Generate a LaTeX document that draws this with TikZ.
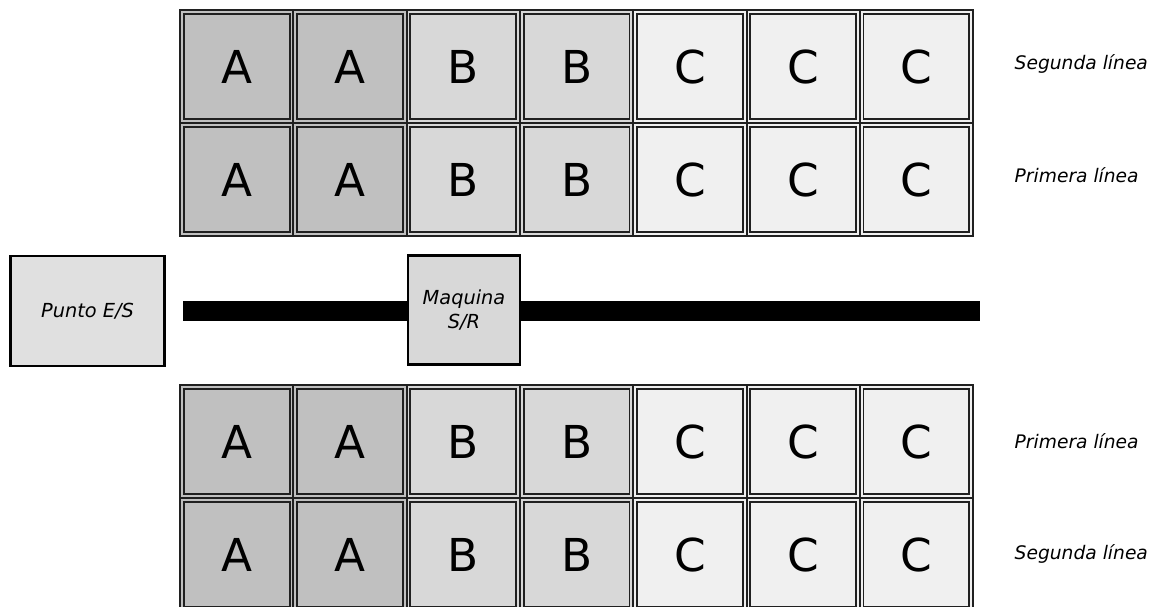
\documentclass[tikz,border=0pt]{standalone}
\usepackage{fontspec}
\setmainfont{DejaVu Sans}
\definecolor{cA}{HTML}{C0C0C0}
\definecolor{cB}{HTML}{D8D8D8}
\definecolor{cC}{HTML}{F0F0F0}
\definecolor{cP}{HTML}{E0E0E0}
\definecolor{edge}{HTML}{202020}
\begin{document}
\begin{tikzpicture}[x=0.75pt,y=-0.75pt,
  cell/.style={draw=edge, line width=1.5pt, minimum width=85pt, minimum height=84.8pt,
    inner sep=0pt, outer sep=0pt, anchor=north west, font=\fontsize{34}{40}\selectfont,
    path picture={\draw[edge, line width=1.4pt]
      ([shift={(2.8pt,-2.8pt)}]path picture bounding box.north west) rectangle
      ([shift={(-2.8pt,2.8pt)}]path picture bounding box.south east);}},
  lbl/.style={anchor=west, font=\fontsize{14}{16}\selectfont\itshape},
  box/.style={draw=black, line width=2.2pt, font=\fontsize{14.5}{17.5}\selectfont\itshape,
    align=center, inner sep=0pt}
]
\useasboundingbox (0,0) rectangle (1150,607);
\def\cw{113.3}
% top block
\foreach \r/\ry in {1/10,2/123}{
  \foreach \c/\l/\f in {1/A/cA,2/A/cA,3/B/cB,4/B/cB,5/C/cC,6/C/cC,7/C/cC}{
    \node[cell, fill=\f] (t\r\c) at ({180+(\c-1)*\cw},\ry) {\l};
  }
}
% bottom block
\foreach \r/\ry in {1/385,2/498}{
  \foreach \c/\l/\f in {1/A/cA,2/A/cA,3/B/cB,4/B/cB,5/C/cC,6/C/cC,7/C/cC}{
    \node[cell, fill=\f] (b\r\c) at ({180+(\c-1)*\cw},\ry) {\l};
  }
}
% labels
\node[lbl] (l1) at (1010,64) {Segunda línea};
\node[lbl] (l2) at (1010,175) {Primera línea};
\node[lbl] (l3) at (1010,441) {Primera línea};
\node[lbl] (l4) at (1010,554) {Segunda línea};
% rail
\fill[black] (183,301) rectangle (980,321);
% boxes
\node[box, fill=cP, minimum width=116pt, minimum height=82.5pt] (es) at (87.5,311) {Punto E/S};
\node[box, fill=cB, minimum width=84pt, minimum height=82pt] (sr) at (464,310) {Maquina\\S/R};
\end{tikzpicture}
\end{document}
